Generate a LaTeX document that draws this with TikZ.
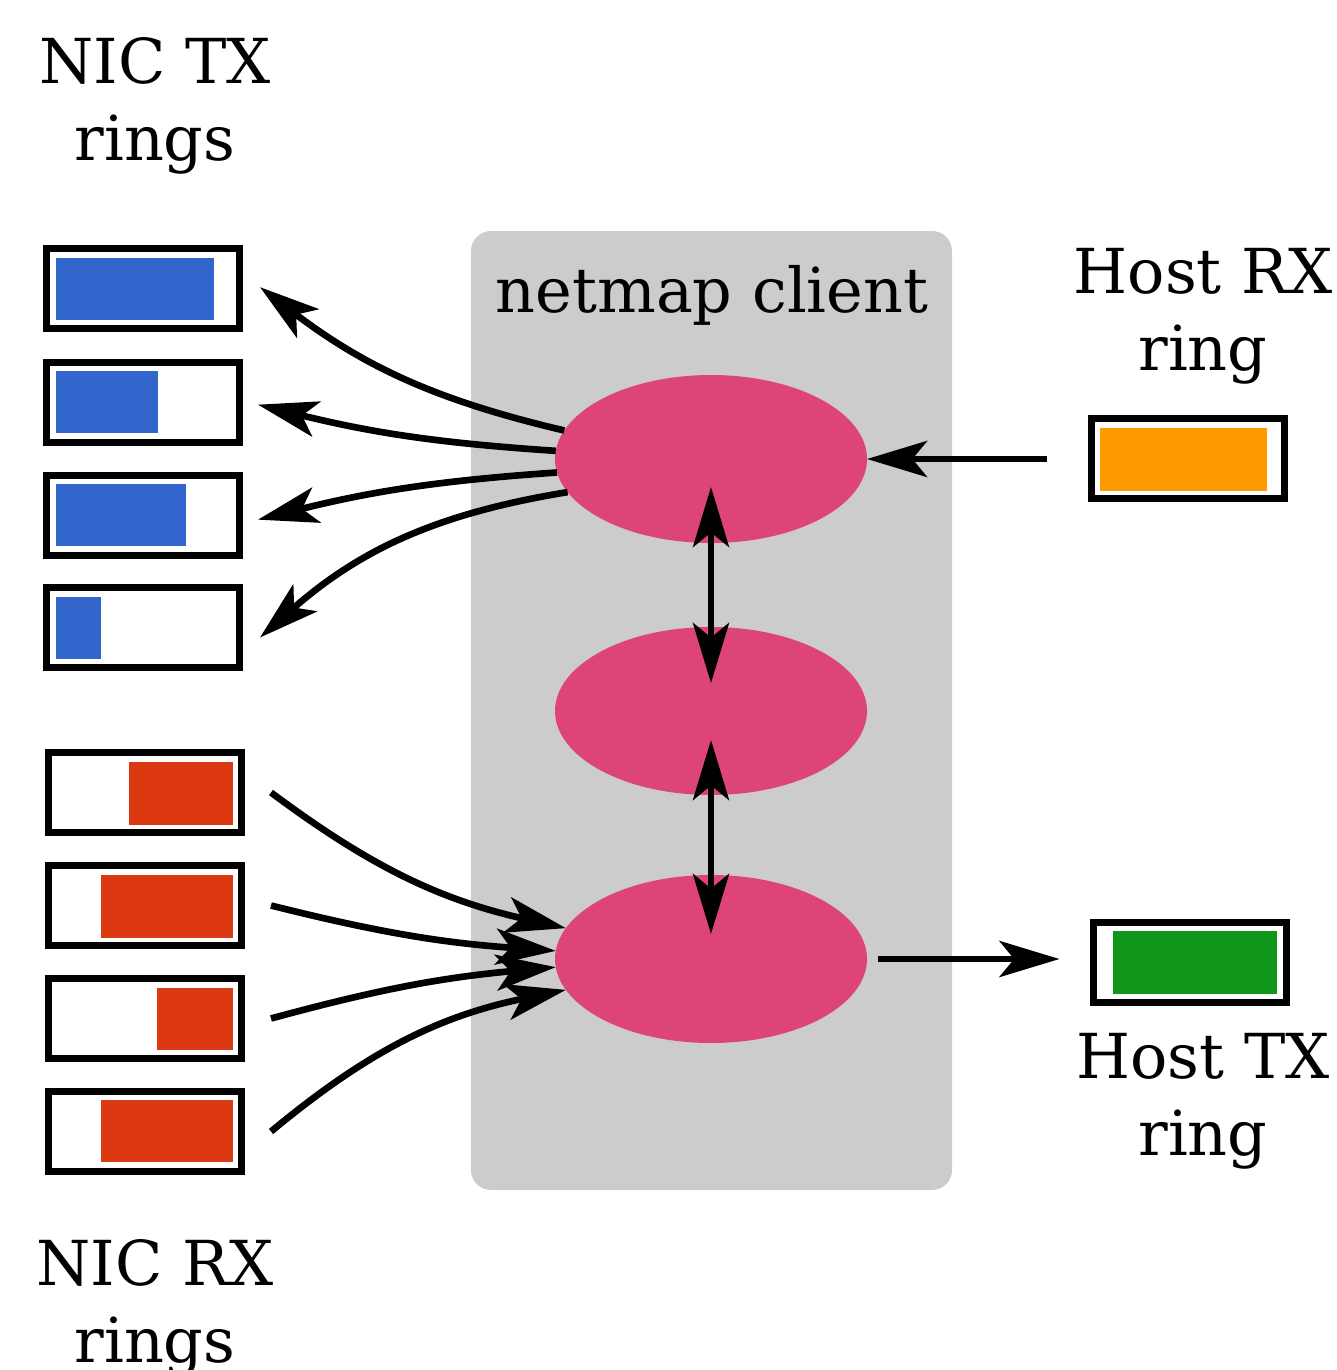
\documentclass[tikz,border=0pt]{standalone}
\usepackage{fontspec}
\setmainfont{DejaVu Serif}
\usetikzlibrary{arrows.meta,shapes.geometric}
\definecolor{gblue}{HTML}{3366CC}
\definecolor{gred}{HTML}{DC3912}
\definecolor{gorange}{HTML}{FF9900}
\definecolor{ggreen}{HTML}{109618}
\definecolor{gpink}{HTML}{DD4477}
\definecolor{ggray}{HTML}{CCCCCC}
\begin{document}
\begin{tikzpicture}[x=0.75pt,y=-0.75pt,
  ring/.style={draw=black,line width=5.25pt,fill=white,minimum width=144.75pt,minimum height=60pt,inner sep=0pt},
  proc/.style={ellipse,fill=gpink,minimum width=234pt,minimum height=126pt,inner sep=0pt,outer sep=0pt},
  lbl/.style={font=\fontsize{46.5pt}{57.75pt}\selectfont,align=center,inner sep=0pt,anchor=base},
  tipA/.tip={Stealth[length=45pt,width=27pt,inset=11pt]},
  conn/.style={line width=5pt,-tipA},
  conn2/.style={line width=5pt,tipA-tipA}
]
\useasboundingbox (0,0) rectangle (1337,1370);
% client area
\fill[ggray,rounded corners=15pt] (471,231) rectangle (952,1190);
\node[lbl] (client) at (712,312) {netmap client};
% processes
\node[proc] (e1) at (711,459) {};
\node[proc] (e2) at (711,711) {};
\node[proc] (e3) at (711,959) {};
% NIC TX rings
\node[ring] (tx1) at (143,288.5) {};
\node[ring] (tx2) at (143,402) {};
\node[ring] (tx3) at (143,515) {};
\node[ring] (tx4) at (143,627.5) {};
\fill[gblue] (56,258) rectangle (214,320);
\fill[gblue] (56,371) rectangle (158,433);
\fill[gblue] (56,484) rectangle (186,546);
\fill[gblue] (56,597) rectangle (101,659);
% NIC RX rings
\node[ring] (rx1) at (145,792.5) {};
\node[ring] (rx2) at (145,905.5) {};
\node[ring] (rx3) at (145,1018.5) {};
\node[ring] (rx4) at (145,1131.5) {};
\fill[gred] (129,762) rectangle (233,825);
\fill[gred] (101,875) rectangle (233,938);
\fill[gred] (157,988) rectangle (233,1050);
\fill[gred] (101,1100) rectangle (233,1162);
% host rings
\node[ring] (hrx) at (1188,458) {};
\fill[gorange] (1100,428) rectangle (1267,491);
\node[ring] (htx) at (1189.5,962) {};
\fill[ggreen] (1113,931) rectangle (1277,994);
% labels (anchor = baseline of the last line)
\node[lbl] (ltx) at (155,160) {NIC TX\\rings};
\node[lbl] (lhrx) at (1203,370) {Host RX\\ring};
\node[lbl] (lhtx) at (1203,1155) {Host TX\\ring};
\node[lbl] (lrx) at (155,1362) {NIC RX\\rings};
% TX arrows
\draw[conn] (e1.169) to[bend left=12] ([xshift=12.75pt,yshift=1pt]tx1.east);
\draw[conn] (e1.177) to[bend left=5] ([xshift=11.25pt,yshift=-2pt]tx2.east);
\draw[conn] (e1.185) to[bend right=5] ([xshift=11.25pt,yshift=-3.5pt]tx3.east);
\draw[conn] (e1.193) to[bend right=16] ([xshift=12.75pt,yshift=-7.5pt]tx4.east);
% RX arrows
\draw[conn] ([xshift=19.5pt]rx1.east) to[bend right=12] (e3.168);
\draw[conn] ([xshift=19.5pt]rx2.east) to[bend right=5] (e3.177);
\draw[conn] ([xshift=19.5pt]rx3.east) to[bend left=5] (e3.183);
\draw[conn] ([xshift=19.5pt]rx4.east) to[bend left=14] (e3.192);
% host arrows
\draw[conn] ([xshift=-30.75pt]hrx.west |- e1.east) -- (e1.east);
\draw[conn] ([xshift=8.25pt]e3.east) -- ([xshift=-22.5pt]htx.west |- e3.east);
% vertical arrows
\draw[conn2] ([yshift=-21pt]e1.center) -- ([yshift=21pt]e2.center);
\draw[conn2] ([yshift=-21.75pt]e2.center) -- ([yshift=18.75pt]e3.center);
\end{tikzpicture}
\end{document}
